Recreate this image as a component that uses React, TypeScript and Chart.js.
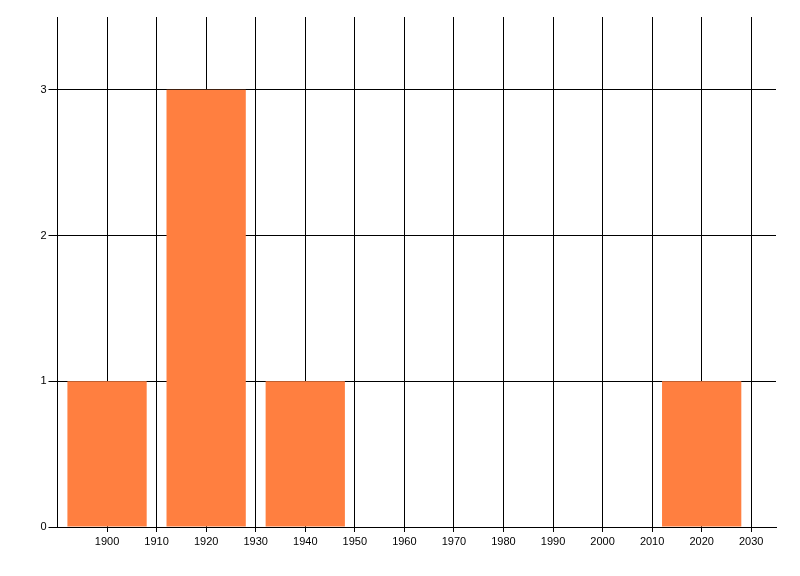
import { useEffect, useRef } from 'react';
import { Chart, registerables } from 'chart.js';

Chart.register(...registerables);

// histogram bins (centre year) and counts
const binCenters = [1900, 1920, 1940, 1960, 1980, 2000, 2020];
const counts = [1, 3, 1, 0, 0, 0, 1];

const xTicks = [1900, 1910, 1920, 1930, 1940, 1950, 1960, 1970, 1980, 1990, 2000, 2010, 2020, 2030];
const yTicks = [0, 1, 2, 3];

const FONT = { family: '"Liberation Sans", Arial, sans-serif', size: 11 };

export default function App() {
  const canvasRef = useRef<HTMLCanvasElement>(null);

  useEffect(() => {
    if (!canvasRef.current) return;
    const ctx = canvasRef.current.getContext('2d');
    if (!ctx) return;

    const chart = new Chart(ctx, {
      type: 'bar',
      data: {
        datasets: [
          {
            label: 'Count',
            data: binCenters.map((x, i) => ({ x, y: counts[i] })),
            backgroundColor: '#FF7F40',
            borderWidth: 0,
            // bins are 16 years wide, ticks are 10 years apart
            categoryPercentage: 1,
            barPercentage: 1.6,
          },
        ],
      },
      options: {
        animation: false,
        responsive: false,
        maintainAspectRatio: false,
        layout: { padding: { top: 17, right: 24, left: 0, bottom: 0 } },
        plugins: {
          legend: { display: false },
          tooltip: { enabled: false },
        },
        scales: {
          x: {
            type: 'linear',
            min: 1890,
            max: 2035,
            offset: false,
            afterBuildTicks: (axis: any) => {
              axis.ticks = xTicks.map(v => ({ value: v }));
            },
            afterFit: (axis: any) => {
              axis.height = 49;
            },
            grid: {
              offset: false,
              color: '#000',
              lineWidth: 1,
              drawTicks: true,
              tickLength: 5,
              tickColor: '#000',
            },
            border: { display: true, color: '#000', width: 1 },
            ticks: {
              color: '#000',
              font: FONT,
              padding: 3,
              maxRotation: 0,
              autoSkip: false,
              callback: (v: any) => String(v),
            },
          },
          y: {
            min: 0,
            max: 3.5,
            afterBuildTicks: (axis: any) => {
              axis.ticks = yTicks.map(v => ({ value: v }));
            },
            afterFit: (axis: any) => {
              axis.width = 57.5;
            },
            grid: {
              color: '#000',
              lineWidth: 1,
              drawTicks: true,
              tickLength: 9,
              tickColor: '#000',
            },
            border: { display: true, color: '#000', width: 1 },
            ticks: {
              color: '#000',
              font: FONT,
              padding: 2,
            },
          },
        },
      },
    });

    return () => {
      chart.destroy();
    };
  }, []);

  return (
    <div style={{ position: 'fixed', left: 0, top: 0, width: 800, height: 576, background: '#fff' }}>
      <canvas ref={canvasRef} width={800} height={576} style={{ width: 800, height: 576 }} />
    </div>
  );
}
